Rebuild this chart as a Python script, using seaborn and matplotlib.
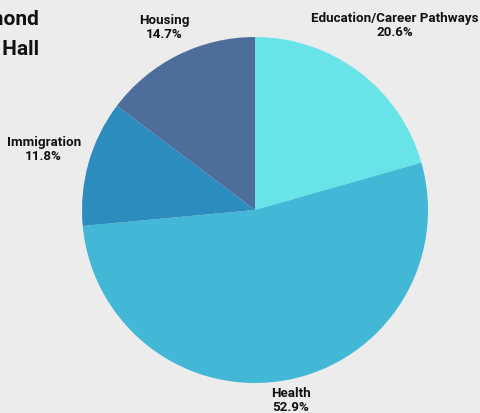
import numpy as np
import matplotlib.pyplot as plt
import seaborn as sns

# Data
topics = ['Education/Career Pathways', 'Health', 'Immigration', 'Housing']
counts = [7, 18, 4, 5]
colors = ['#68e4e8', '#42b7d6', '#2c8cbe', '#4d6e9a']
title = 'Richmond\nTown Hall'

sns.set_theme(style='white')
plt.rcParams['font.family'] = ['Roboto', 'DejaVu Sans']

fig = plt.figure(figsize=(4.8, 4.13), dpi=100)
fig.patch.set_facecolor('#ececec')

# pie centre ~ (255, 210) px, radius ~173 px
cx, cy, r = 255 / 480, 1 - 210 / 413, 173
ax = fig.add_axes([cx - r / 480, cy - r / 413, 2 * r / 480, 2 * r / 413])
ax.set_facecolor('#ececec')

wedges, _ = ax.pie(counts, colors=colors, startangle=90, counterclock=False,
                   radius=1, wedgeprops=dict(linewidth=0))
ax.set_xlim(-1, 1)
ax.set_ylim(-1, 1)
ax.set_aspect('equal')
ax.axis('off')

# label distances (in pie radii) tuned to the reference layout
label_r = [1.34, 1.12, 1.27, 1.18]
total = sum(counts)
for w, name, c, lr in zip(wedges, topics, counts, label_r):
    mid = np.deg2rad((w.theta1 + w.theta2) / 2)
    ax.text(lr * np.cos(mid), lr * np.sin(mid),
            f'{name}\n{c / total * 100:.1f}%',
            ha='center', va='center', fontsize=9.6, fontweight='bold',
            color='#111111', linespacing=1.1, clip_on=False)

# title is partly off the left edge in the reference
fig.text(39 / 480, 1 - 10 / 413, title, ha='right', va='top',
         fontsize=15, fontweight='bold', color='#111111', linespacing=1.75)

fig.savefig('out.png', dpi=100, facecolor=fig.get_facecolor())
